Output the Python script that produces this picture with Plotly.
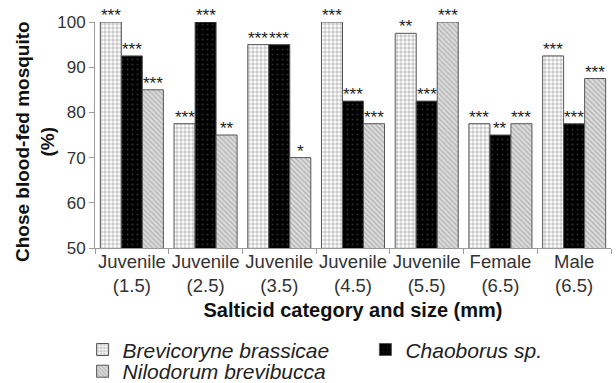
import plotly.graph_objects as go

# Salticid groups (category and body size in mm)
categories = ["Juvenile<br>(1.5)", "Juvenile<br>(2.5)", "Juvenile<br>(3.5)",
              "Juvenile<br>(4.5)", "Juvenile<br>(5.5)", "Female<br>(6.5)", "Male<br>(6.5)"]

# % of trials in which the blood-fed mosquito was chosen, per alternative prey
brevicoryne = [100, 77.5, 95, 100, 97.5, 77.5, 92.5]
chaoborus = [92.5, 100, 95, 82.5, 82.5, 75, 77.5]
nilodorum = [85, 75, 70, 77.5, 100, 77.5, 87.5]

# significance markers above each bar
sig_brevicoryne = ["***", "***", "***", "***", "**", "***", "***"]
sig_chaoborus = ["***", "***", "***", "***", "***", "**", "***"]
sig_nilodorum = ["***", "**", "*", "***", "***", "***", "***"]

FONT = "Liberation Sans, Arial, sans-serif"
BARGAP = 0.145
OUTLINE = dict(color="#555555", width=1)
LEGEND_FONT = dict(family=FONT, size=21, style="italic", color="#222222")

# name, values, markers, fill pattern, legend slot
series = [
    ("Brevicoryne brassicae", brevicoryne, sig_brevicoryne,
     dict(shape=".", fgcolor="#949494", bgcolor="#ffffff", size=4, solidity=0.6), "legend"),
    ("Chaoborus sp.", chaoborus, sig_chaoborus,
     dict(shape=".", fgcolor="#5a5a5a", bgcolor="#000000", size=5, solidity=0.12), "legend2"),
    ("Nilodorum brevibucca", nilodorum, sig_nilodorum,
     dict(shape="\\", fgcolor="#8c8c8c", bgcolor="#e0e0e0", size=3.5, solidity=0.45), "legend3"),
]

fig = go.Figure()
annotations = []
bar_w = (1 - BARGAP) / len(series)
for j, (name, vals, sig, pattern, leg) in enumerate(series):
    fig.add_trace(go.Bar(
        name=name, x=categories, y=vals,
        marker=dict(color=pattern["bgcolor"], line=OUTLINE, pattern=pattern),
        legend=leg, showlegend=True,
    ))
    for i, (v, s) in enumerate(zip(vals, sig)):
        annotations.append(dict(
            x=i + (j - 1) * bar_w, y=v, xref="x", yref="y",
            text=s, showarrow=False, yanchor="bottom", yshift=-5,
            font=dict(family=FONT, size=17, color="#222222"),
        ))

# y-axis title, placed by hand close to the tick labels
annotations.append(dict(
    text="<b>Chose blood-fed mosquito<br>(%)</b>", textangle=-90,
    xref="paper", yref="paper", x=0, y=0.5, xanchor="center", yanchor="middle",
    xshift=-60, yshift=-7, showarrow=False,
    font=dict(family=FONT, size=19, color="#111111"),
))

legend_common = dict(xanchor="left", yanchor="top", bgcolor="rgba(0,0,0,0)",
                     font=LEGEND_FONT, borderwidth=0)

fig.update_layout(
    width=616, height=383,
    margin=dict(l=95, r=5, t=22, b=135, autoexpand=False),
    paper_bgcolor="white", plot_bgcolor="white",
    showlegend=True,
    barmode="group", bargap=BARGAP, bargroupgap=0,
    font=dict(family=FONT, color="#222222"),
    annotations=annotations,
    legend=dict(x=-0.024, y=-0.36, **legend_common),
    legend2=dict(x=0.524, y=-0.36, **legend_common),
    legend3=dict(x=-0.024, y=-0.456, **legend_common),
)

fig.update_xaxes(
    showline=True, linecolor="#9a9a9a", linewidth=1,
    ticks="outside", tickson="boundaries", ticklen=5, tickcolor="#9a9a9a",
    tickangle=0, ticklabelstandoff=-3,
    tickfont=dict(family=FONT, size=18.5, color="#333333"),
    title=dict(text="<b>Salticid category and size (mm)</b>",
               font=dict(family=FONT, size=20, color="#111111"), standoff=7),
    showgrid=False,
)
fig.update_yaxes(
    range=[50, 100], tickvals=[50, 60, 70, 80, 90, 100],
    showline=True, linecolor="#9a9a9a", linewidth=1,
    ticks="outside", ticklen=5, tickcolor="#9a9a9a",
    tickfont=dict(family=FONT, size=17, color="#333333"),
    showgrid=False, zeroline=False,
)

fig.write_html("out.html")
